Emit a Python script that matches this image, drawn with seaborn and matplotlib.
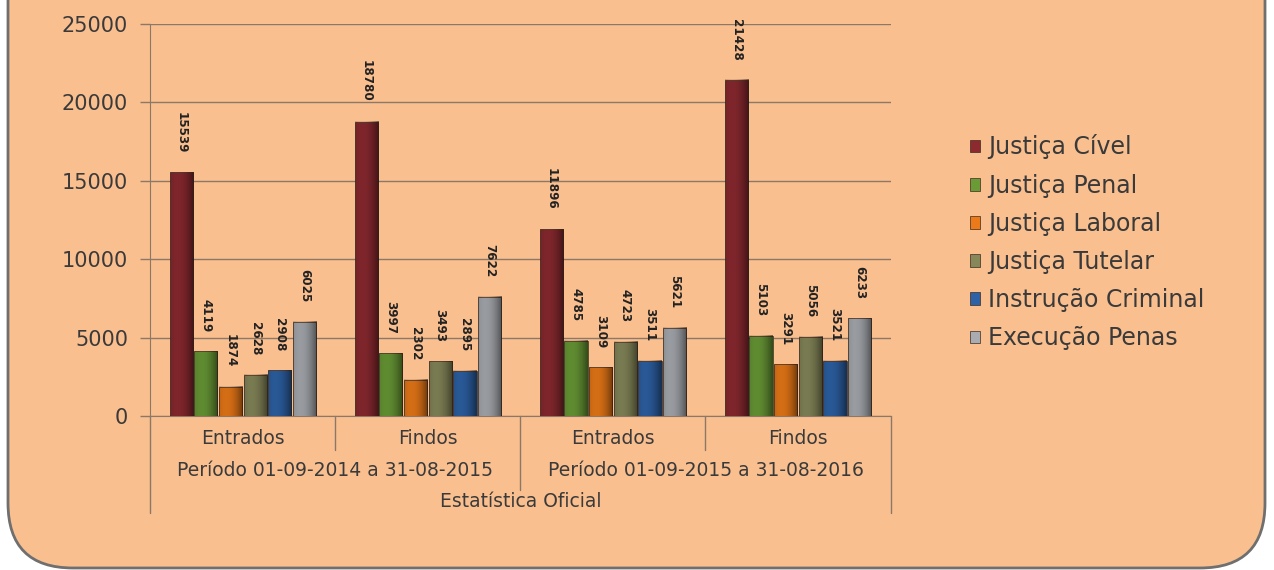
import numpy as np
import pandas as pd
import matplotlib
matplotlib.use("Agg")
import matplotlib.pyplot as plt
import seaborn as sns
from matplotlib.patches import FancyBboxPatch
import matplotlib.transforms as mtransforms

# dados
grupos = ["Entrados", "Findos", "Entrados", "Findos"]
periodos = ["Período 01-09-2014 a 31-08-2015", "Período 01-09-2015 a 31-08-2016"]
titulo_x = "Estatística Oficial"
series = ["Justiça Cível", "Justiça Penal", "Justiça Laboral",
          "Justiça Tutelar", "Instrução Criminal", "Execução Penas"]
civel = [15539, 18780, 11896, 21428]
penal = [4119, 3997, 4785, 5103]
laboral = [1874, 2302, 3109, 3291]
tutelar = [2628, 3493, 4723, 5056]
instrucao = [2908, 2895, 3511, 3521]
execucao = [6025, 7622, 5621, 6233]
cores = ["#8c2a30", "#6a9b36", "#ec7a18", "#86885a", "#2d62a6", "#a9acb1"]

chaves = [f"{g}_{i}" for i, g in enumerate(grupos)]
valores = [civel, penal, laboral, tutelar, instrucao, execucao]
linhas = []
for s, vals in zip(series, valores):
    for k, v in zip(chaves, vals):
        linhas.append({"grupo": k, "serie": s, "valor": v})
df = pd.DataFrame(linhas)

sns.set_style("white")
plt.rcParams['font.family'] = ['DejaVu Sans']
fundo = "#fabf8f"
texto = "#3a3a3a"
cinza = "#8c7868"

fig = plt.figure(figsize=(12.74, 5.70), dpi=100, facecolor="white")
# moldura arredondada (o topo fica cortado, como no original)
moldura = FancyBboxPatch((0.08, 0.02), 12.57, 20.0,
                         boxstyle="round,pad=0,rounding_size=0.65",
                         transform=fig.dpi_scale_trans, facecolor=fundo,
                         edgecolor="#6f6f6f", linewidth=2, zorder=-10)
fig.add_artist(moldura)

ax = fig.add_axes([0.118, 0.270, 0.581, 0.688])
ax.set_facecolor("none")
ax.set_zorder(5)
sns.barplot(data=df, x="grupo", y="valor", hue="serie", order=chaves,
            hue_order=series, palette=cores, saturation=1, width=0.8, gap=0.06,
            edgecolor="#3b2a20", linewidth=0.5, ax=ax, zorder=3)

# sombreado tipo cilindro por cima de cada barra
t = np.linspace(0, 1, 60)
sombra = np.zeros((1, 60, 4))
sombra[..., 3] = np.clip(0.1 + 0.9 * (t - 0.3) ** 2, 0, 0.5)
for cont in ax.containers:
    for b in cont:
        ax.imshow(sombra, extent=[b.get_x(), b.get_x() + b.get_width(), 0, b.get_height()],
                  aspect="auto", zorder=4, clip_path=b, interpolation="bilinear")

for cont in ax.containers:
    ax.bar_label(cont, fmt="%d", rotation=-90, padding=14, fontsize=9.5,
                 family=["Liberation Sans Narrow", "DejaVu Sans"],
                 fontstretch="condensed", fontweight="bold", color="#222222")

ax.set_ylim(0, 25000)
ax.set_xlim(-0.5, 3.5)
ax.set_yticks(range(0, 25001, 5000))
ax.set_yticklabels([str(v) for v in range(0, 25001, 5000)],
                   fontsize=15, color=texto)
ax.yaxis.grid(True, color=cinza, linewidth=1, zorder=0)
ax.tick_params(axis="y", length=7, color=cinza, width=1, pad=9, left=True)
ax.tick_params(axis="x", length=0, labelbottom=False)
ax.set_xlabel("")
ax.set_ylabel("")
for lado in ["top", "right"]:
    ax.spines[lado].set_visible(False)
ax.spines["left"].set_color(cinza)
ax.spines["bottom"].set_color(cinza)

# eixo x hierárquico
trans = mtransforms.blended_transform_factory(ax.transData, ax.transAxes)
for i, g in enumerate(grupos):
    ax.text(i, -0.056, g, transform=trans, ha="center", va="center",
            fontsize=13.5, color=texto)
for j, p in enumerate(periodos):
    ax.text(2 * j + 0.5, -0.138, p, transform=trans, ha="center", va="center",
            fontsize=13.5, color=texto)
ax.text(1.5, -0.219, titulo_x, transform=trans, ha="center", va="center",
        fontsize=13.5, color=texto)
for xs, fim in [(-0.5, -0.247), (0.5, -0.087), (1.5, -0.189),
                (2.5, -0.087), (3.5, -0.247)]:
    ax.plot([xs, xs], [0, fim], transform=trans, color=cinza,
            linewidth=1, clip_on=False)

leg = ax.legend(loc="center left", bbox_to_anchor=(1.078, 0.443), frameon=False,
                fontsize=17, labelspacing=0.6, handlelength=0.45,
                handleheight=0.45, handletextpad=0.35, labelcolor=texto)

fig.savefig("out.png", dpi=100, facecolor="white")
